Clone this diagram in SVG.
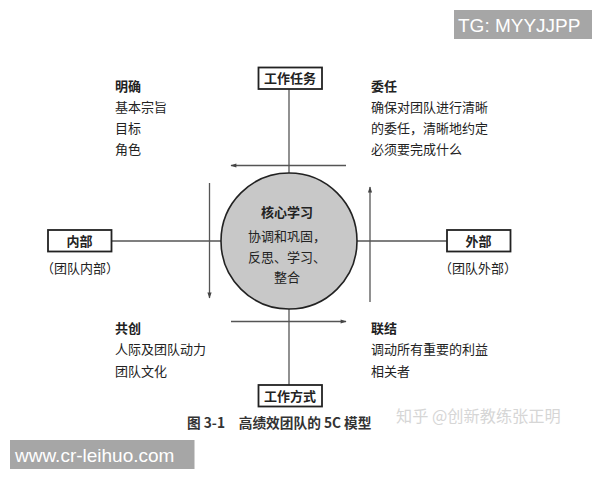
<svg xmlns="http://www.w3.org/2000/svg" width="600" height="480" viewBox="0 0 600 480">
<defs>
<marker id="ah" viewBox="0 0 10 10" refX="9" refY="5" markerWidth="7" markerHeight="6" markerUnits="userSpaceOnUse" orient="auto">
<path d="M0,1.5 L10,5 L0,8.5 z" fill="#444"/>
</marker>
<style>
.t{font-family:"Noto Sans CJK SC","Noto Sans",sans-serif;font-size:13px;fill:#222}
.b{font-weight:bold}
.c{text-anchor:middle}
.box{fill:#fff;stroke:#222;stroke-width:1.8}
.ln{stroke:#555;stroke-width:1.3;fill:none}
.wm{font-family:"Liberation Sans",Arial,sans-serif;font-size:19px;fill:#fff}
</style>
</defs>
<rect width="600" height="480" fill="#fff"/>
<g id="connectors">
<line class="ln" x1="289" y1="89" x2="289" y2="173"/>
<line class="ln" x1="289" y1="309" x2="289" y2="385"/>
<line class="ln" x1="111" y1="241" x2="221" y2="241"/>
<line class="ln" x1="357" y1="241" x2="447" y2="241"/>
<line class="ln" x1="346" y1="165.5" x2="231" y2="165.5" marker-end="url(#ah)"/>
<line class="ln" x1="231" y1="321.5" x2="346" y2="321.5" marker-end="url(#ah)"/>
<line class="ln" x1="209.5" y1="183" x2="209.5" y2="298" marker-end="url(#ah)"/>
<line class="ln" x1="370" y1="302" x2="370" y2="187" marker-end="url(#ah)"/>
</g>
<g id="core">
<circle cx="289" cy="241" r="68" fill="#c8c8c8" stroke="#222" stroke-width="1.6"/>
<text class="t b c" x="287" y="216.5">核心学习</text>
<text class="t c" x="287" y="241">协调和巩固，</text>
<text class="t c" x="287" y="261.5">反思、学习、</text>
<text class="t c" x="287" y="281.5">整合</text>
</g>
<g id="task">
<rect class="box" x="258.5" y="67.5" width="63.5" height="21.5"/>
<text class="t b c" x="290" y="83">工作任务</text>
</g>
<g id="method">
<rect class="box" x="258.5" y="385" width="63.5" height="21.5"/>
<text class="t b c" x="290" y="400.5">工作方式</text>
</g>
<g id="internal">
<rect class="box" x="48" y="230" width="63.5" height="21.5"/>
<text class="t b c" x="79.5" y="245.5">内部</text>
<text class="t c" x="80" y="272.5">（团队内部）</text>
</g>
<g id="external">
<rect class="box" x="447" y="230" width="63.5" height="21.5"/>
<text class="t b c" x="478.5" y="245.5">外部</text>
<text class="t c" x="478" y="272.5">（团队外部）</text>
</g>
<g id="clarify">
<text class="t b" x="115" y="90.5">明确</text>
<text class="t" x="115" y="111.5">基本宗旨</text>
<text class="t" x="115" y="132.5">目标</text>
<text class="t" x="115" y="154">角色</text>
</g>
<g id="delegate">
<text class="t b" x="371" y="90.5">委任</text>
<text class="t" x="371" y="111.5">确保对团队进行清晰</text>
<text class="t" x="371" y="132.5">的委任，清晰地约定</text>
<text class="t" x="371" y="154">必须要完成什么</text>
</g>
<g id="cocreate">
<text class="t b" x="115" y="332.5">共创</text>
<text class="t" x="115" y="354">人际及团队动力</text>
<text class="t" x="115" y="376">团队文化</text>
</g>
<g id="connect">
<text class="t b" x="371" y="332.5">联结</text>
<text class="t" x="371" y="354">调动所有重要的利益</text>
<text class="t" x="371" y="376">相关者</text>
</g>
<text class="t b" x="187" y="428" style="font-size:13.7px;fill:#333">图 3-1　高绩效团队的 5C 模型</text>
<text class="t" x="396" y="421.5" style="font-size:16.2px;fill:#d6d6d6">知乎 @创新教练张正明</text>
<rect x="454" y="10" width="138" height="29" fill="#a6a6a6"/>
<text class="wm" x="458" y="31.5">TG: MYYJJPP</text>
<rect x="10" y="440" width="184.5" height="29" fill="#a6a6a6"/>
<text class="wm" x="15" y="461.5">www.cr-leihuo.com</text>
</svg>
